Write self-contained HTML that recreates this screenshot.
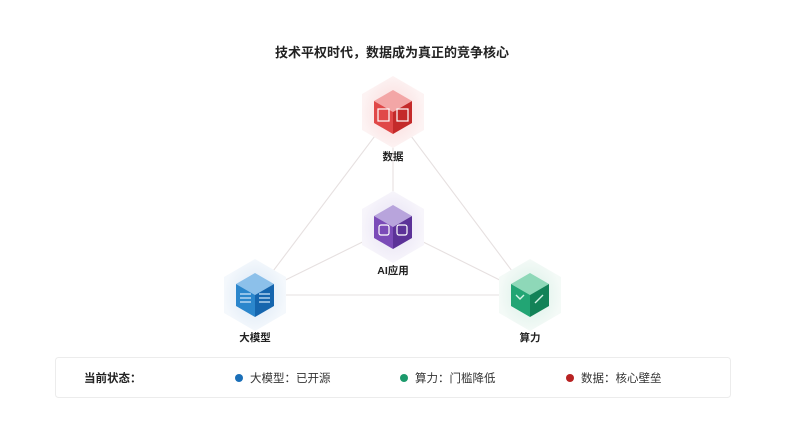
<!DOCTYPE html>
<html><head><meta charset="utf-8"><style>
html,body{margin:0;padding:0;background:#fff;}
body{width:785px;height:442px;overflow:hidden;font-family:"Liberation Sans","Noto Sans CJK SC",sans-serif;}
</style></head><body>
<svg width="785" height="442" viewBox="0 0 785 442" xmlns="http://www.w3.org/2000/svg">
<defs>
<radialGradient id="gr"><stop offset="0.4" stop-color="#fbe3e3"/><stop offset="1" stop-color="#fdf3f3"/></radialGradient>
<radialGradient id="gp"><stop offset="0.4" stop-color="#ece8f6"/><stop offset="1" stop-color="#f7f5fb"/></radialGradient>
<radialGradient id="gb"><stop offset="0.4" stop-color="#e3edf8"/><stop offset="1" stop-color="#f4f8fc"/></radialGradient>
<radialGradient id="gg"><stop offset="0.4" stop-color="#e2f3ec"/><stop offset="1" stop-color="#f4faf7"/></radialGradient>
</defs>
<text x="392" y="57" text-anchor="middle" font-size="13" font-weight="bold" fill="#222" font-family="Liberation Sans,Noto Sans CJK SC,sans-serif">技术平权时代，数据成为真正的竞争核心</text>
<g stroke="#e6e0e0" stroke-width="1.1" fill="none">
<line x1="393" y1="112" x2="255" y2="295"/>
<line x1="393" y1="112" x2="530" y2="295"/>
<line x1="255" y1="295" x2="530" y2="295"/>
<line x1="393" y1="112" x2="393" y2="227"/>
<line x1="393" y1="227" x2="255" y2="295"/>
<line x1="393" y1="227" x2="530" y2="295"/>
</g>
<g transform="translate(393,112)">
<polygon points="0,-36 31,-18 31,18 0,36 -31,18 -31,-18" fill="url(#gr)"/>
<polygon points="0,-22 19,-11 0,0 -19,-11" fill="#f3a6a6"/>
<polygon points="-19,-11 0,0 0,22 -19,11" fill="#e04848"/>
<polygon points="0,0 19,-11 19,11 0,22" fill="#c42a2a"/>
<rect x="-15" y="-3" width="11" height="12" fill="none" stroke="#fff" stroke-width="1.2"/>
<rect x="4" y="-3" width="11" height="12" fill="none" stroke="#fff" stroke-width="1.2"/>
</g>
<g transform="translate(393,227)">
<polygon points="0,-36 31,-18 31,18 0,36 -31,18 -31,-18" fill="url(#gp)"/>
<polygon points="0,-22 19,-11 0,0 -19,-11" fill="#b8a4dc"/>
<polygon points="-19,-11 0,0 0,22 -19,11" fill="#7b4bb8"/>
<polygon points="0,0 19,-11 19,11 0,22" fill="#5c3298"/>
<rect x="-14" y="-2" width="10" height="10" rx="2" fill="none" stroke="#fff" stroke-width="1.2"/>
<rect x="4" y="-2" width="10" height="10" rx="2" fill="none" stroke="#fff" stroke-width="1.2"/>
</g>
<g transform="translate(255,295)">
<polygon points="0,-36 31,-18 31,18 0,36 -31,18 -31,-18" fill="url(#gb)"/>
<polygon points="0,-22 19,-11 0,0 -19,-11" fill="#8cc0ea"/>
<polygon points="-19,-11 0,0 0,22 -19,11" fill="#2b86cc"/>
<polygon points="0,0 19,-11 19,11 0,22" fill="#1565ae"/>
<path d="M-15,-1 h11 M-15,3 h11 M-15,7 h11 M4,-1 h11 M4,3 h11 M4,7 h11" stroke="#cfe6fa" stroke-width="1.2"/>
</g>
<g transform="translate(530,295)">
<polygon points="0,-36 31,-18 31,18 0,36 -31,18 -31,-18" fill="url(#gg)"/>
<polygon points="0,-22 19,-11 0,0 -19,-11" fill="#8ed8b8"/>
<polygon points="-19,-11 0,0 0,22 -19,11" fill="#22a574"/>
<polygon points="0,0 19,-11 19,11 0,22" fill="#128257"/>
<path d="M-14,0 l4,4 l4,-4 M5,8 l8,-8" stroke="#d4f4e6" stroke-width="1.4" fill="none"/>
</g>
<g font-size="10.5" font-weight="bold" fill="#222" text-anchor="middle" font-family="Liberation Sans,Noto Sans CJK SC,sans-serif">
<text x="393" y="160">数据</text>
<text x="393" y="274">AI应用</text>
<text x="255" y="341">大模型</text>
<text x="530" y="341">算力</text>
</g>
<rect x="55.5" y="357.5" width="675" height="40" rx="3" fill="#fff" stroke="#ececec"/>
<g font-size="11.5" fill="#333" font-family="Liberation Sans,Noto Sans CJK SC,sans-serif">
<text x="84" y="382" font-weight="bold" fill="#222">当前状态：</text>
<circle cx="239" cy="378" r="4" fill="#1a6fb8"/>
<text x="250" y="382">大模型：已开源</text>
<circle cx="404" cy="378" r="4" fill="#1c9a6c"/>
<text x="415" y="382">算力：门槛降低</text>
<circle cx="570" cy="378" r="4" fill="#b82222"/>
<text x="581" y="382">数据：核心壁垒</text>
</g>
</svg>
</body></html>
